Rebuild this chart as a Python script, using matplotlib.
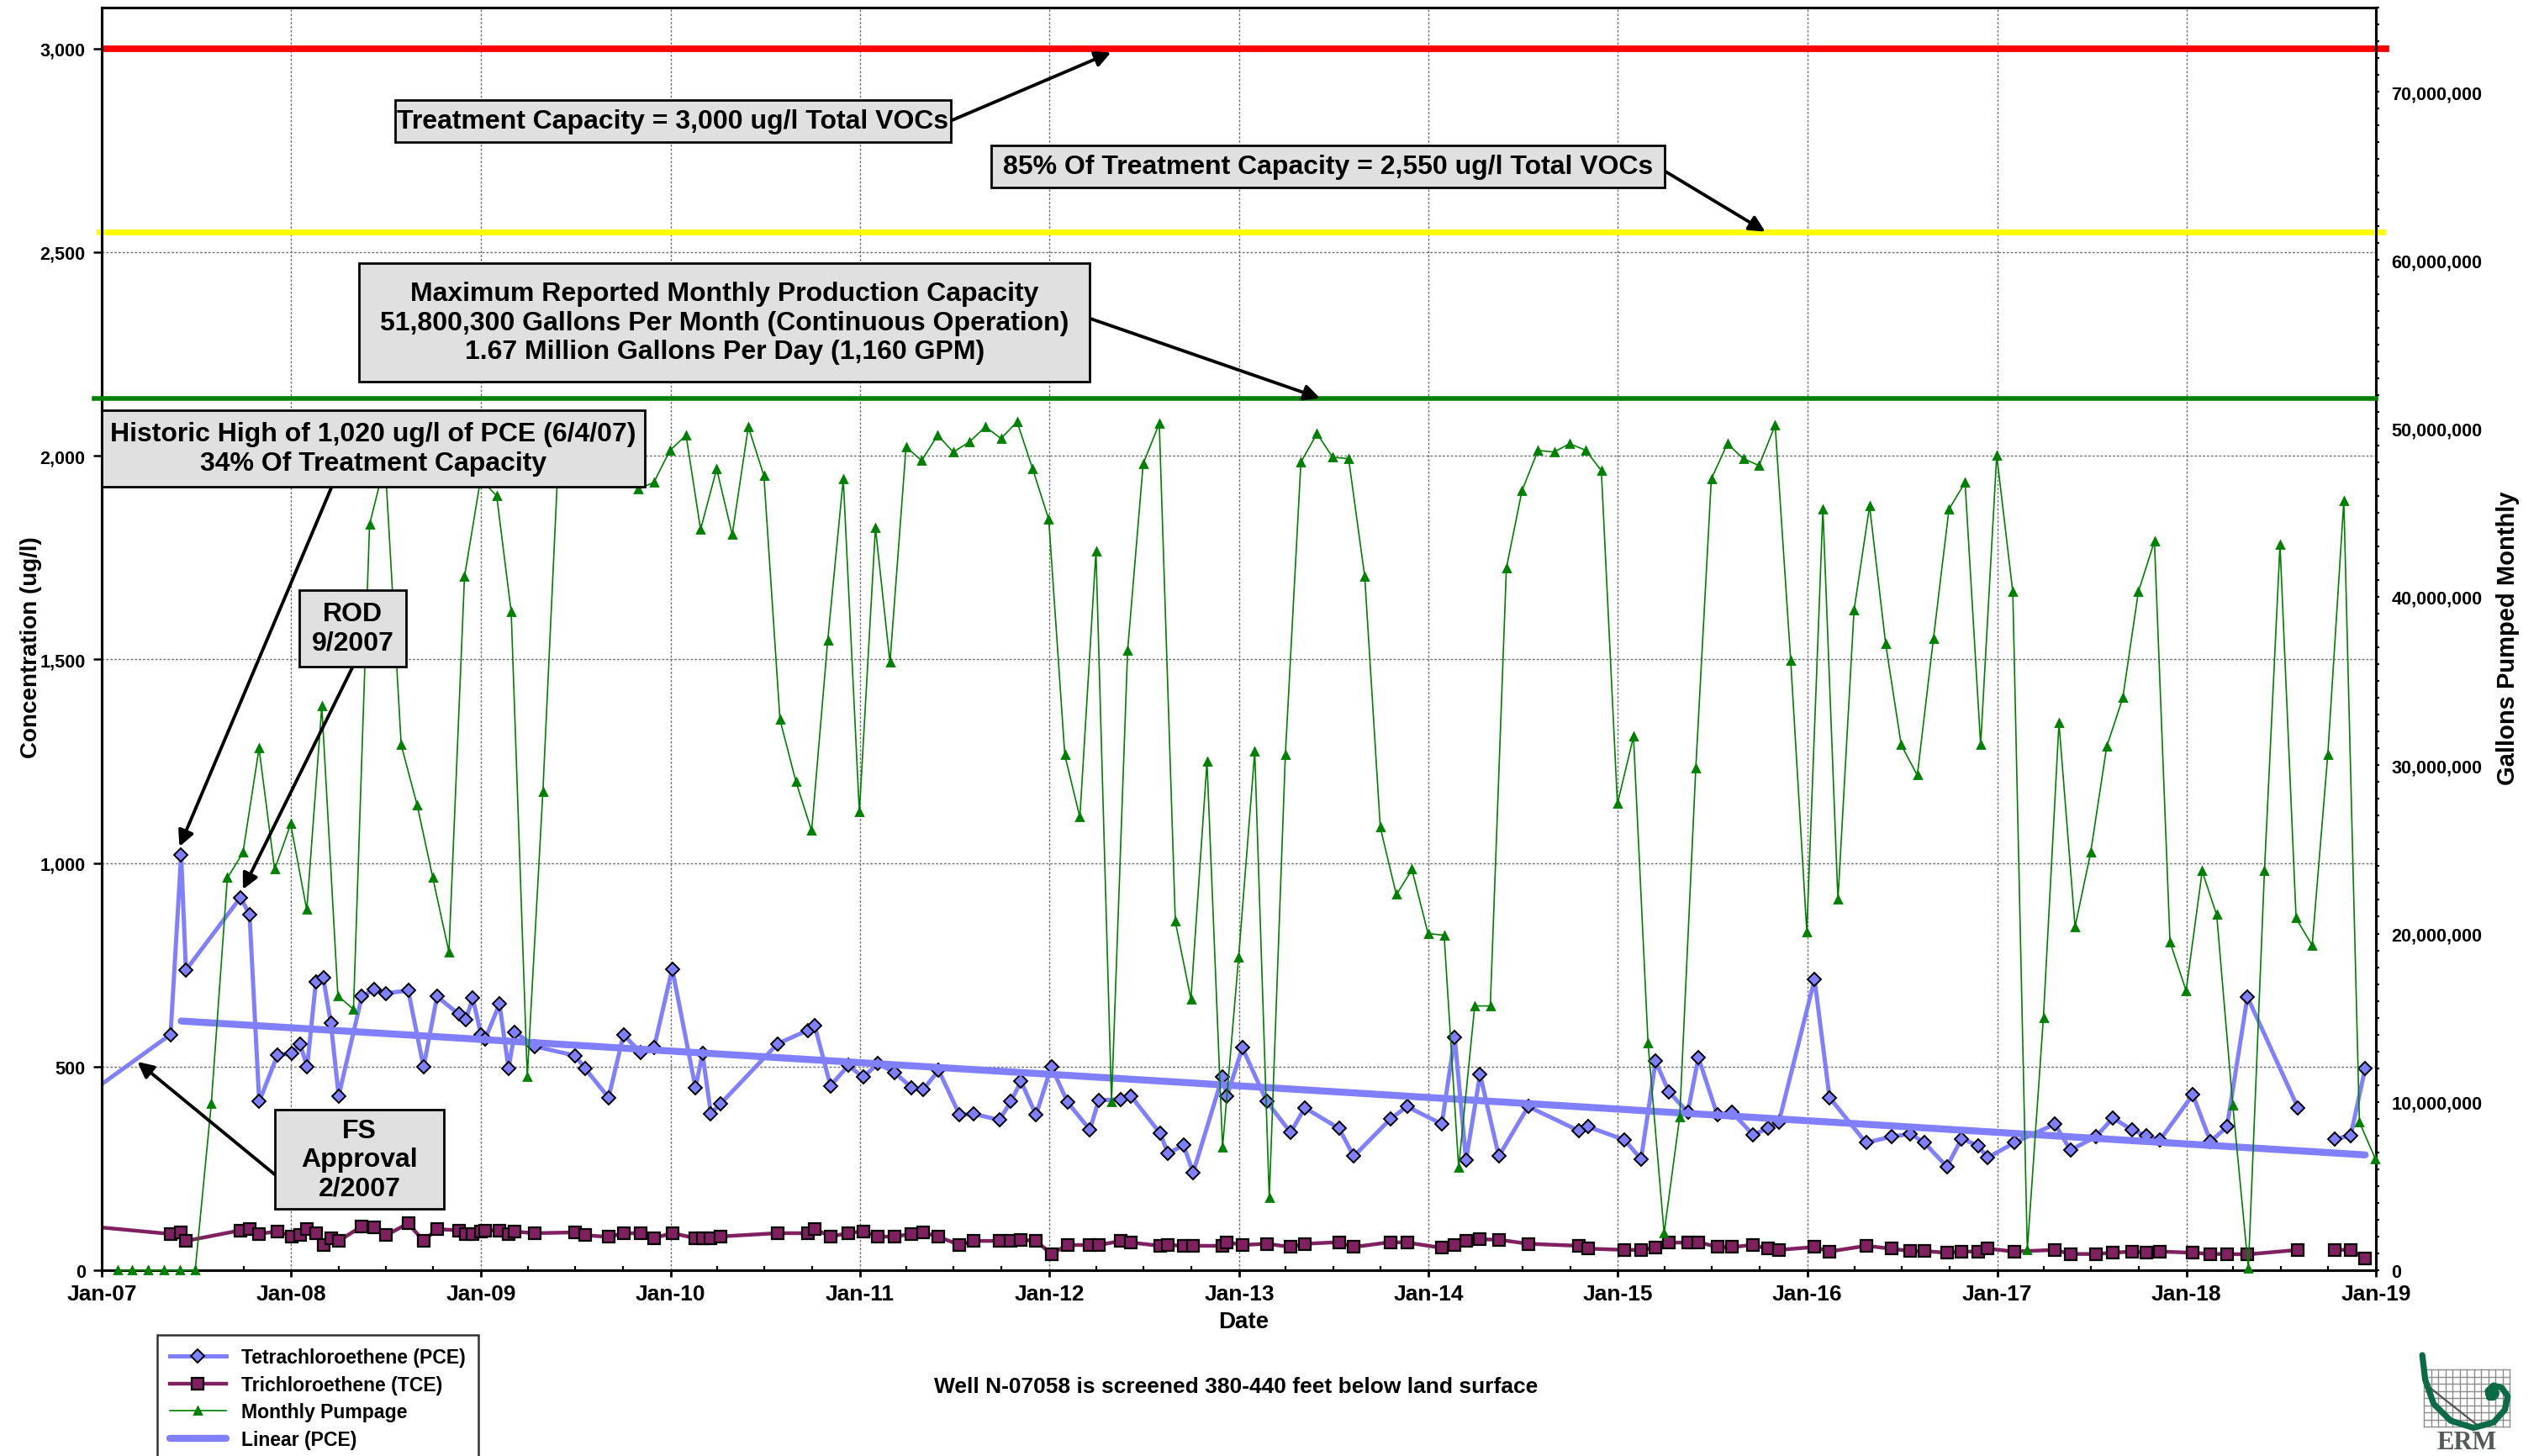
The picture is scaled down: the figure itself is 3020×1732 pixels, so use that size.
import numpy as np
import pandas as pd
import matplotlib
matplotlib.use("Agg")
import matplotlib.pyplot as plt
import matplotlib.dates as mdates
from matplotlib.patches import Rectangle
from matplotlib.ticker import FuncFormatter, MultipleLocator

plt.rcParams['font.family'] = ['Liberation Sans', 'DejaVu Sans']
plt.rcParams['font.weight'] = 'bold'
plt.rcParams['axes.labelweight'] = 'bold'

# sampling events (decimal years); the first one is before the axis start
sample_year = [
    2006.750,
    2007.363, 2007.419, 2007.444, 2007.732, 2007.780, 2007.831, 2007.928,
    2008.005, 2008.046, 2008.084, 2008.130, 2008.169, 2008.209, 2008.250,
    2008.372, 2008.438, 2008.500, 2008.616, 2008.697, 2008.768, 2008.882,
    2008.919, 2008.956,
    2009.000, 2009.022, 2009.097, 2009.145, 2009.178, 2009.281, 2009.496,
    2009.548, 2009.673, 2009.752, 2009.844, 2009.913,
    2010.009, 2010.132, 2010.169, 2010.213, 2010.265, 2010.565, 2010.724,
    2010.761, 2010.845, 2010.939,
    2011.017, 2011.094, 2011.183, 2011.274, 2011.333, 2011.416, 2011.527,
    2011.600, 2011.737, 2011.797, 2011.851, 2011.930,
    2012.011, 2012.097, 2012.214, 2012.260, 2012.378, 2012.430, 2012.584,
    2012.625, 2012.707, 2012.758, 2012.911, 2012.936,
    2013.017, 2013.146, 2013.272, 2013.346, 2013.528, 2013.605, 2013.798,
    2013.886,
    2014.070, 2014.138, 2014.198, 2014.272, 2014.371, 2014.526, 2014.796,
    2014.844,
    2015.035, 2015.122, 2015.199, 2015.269, 2015.369, 2015.425, 2015.525,
    2015.602, 2015.713, 2015.791, 2015.850,
    2016.038, 2016.117, 2016.309, 2016.442, 2016.543, 2016.617, 2016.735,
    2016.812, 2016.901, 2016.948,
    2017.090, 2017.305, 2017.386, 2017.522, 2017.611, 2017.710, 2017.789,
    2017.858,
    2018.033, 2018.126, 2018.213, 2018.321, 2018.588, 2018.690, 2018.784,
    2018.866, 2018.943,
]

# Tetrachloroethene (ug/l); nan = missed sample (line break)
pce = [
    373,
    579, 1020, 737, 915, 874, 414, 529,
    532, 556, 500, 708, 718, 606, 428,
    672, 690, 680, 687, 499, 672, 629,
    615, 668,
    578, 568, 654, 496, 585, 550, 527,
    496, 424, 578, 534, 546,
    740, 448, 532, 385, 409, 556, 589,
    601, 453, 503,
    474, 507, 486, 448, 443, 491, 381,
    384, 369, 414, 464, 381,
    500, 412, 345, 417, 420, 428, 336,
    287, 307, 240, 474, 428,
    546, 414, 338, 399, 348, 280, 371,
    402,
    359, 572, 270, 481, 280, 402, 342,
    352,
    320, 273, 513, 438, 388, 522, 381,
    388, 333, 348, 364,
    714, 424, 313, 328, 335, 313, 254,
    323, 306, 276,
    313, 359, 295, 328, 374, 345, 330,
    319,
    431, 316, 352, 671, 399, np.nan, 323,
    330, 496,
]

# Trichloroethene (ug/l)
tce = [
    116,
    89, 93, 72, 98, 101, 89, 96,
    82, 86, 101, 91, 62, 79, 72,
    108, 105, 86, 115, 72, 101, 98,
    89, 89,
    95, 98, 98, 89, 95, 91, 93,
    86, 82, 91, 91, 79,
    91, 79, 79, 79, 83, 91, 91,
    101, 83, 91,
    96, 82, 83, 89, 93, 82, 62,
    72, 72, 72, 75, 72,
    40, 62, 62, 62, 72, 68, 60,
    62, 60, 60, 60, 69,
    62, 65, 57, 65, 69, 57, 69,
    68,
    55, 62, 72, 76, 75, 65, 60,
    53,
    50, 50, 55, 68, 68, 69, 57,
    57, 62, 53, 50,
    57, 46, 60, 53, 47, 47, 43,
    46, 46, 53,
    46, 50, 40, 40, 43, 46, 43,
    46,
    43, 40, 40, 39, 50, np.nan, 50,
    50, 29,
]

# monthly pumpage, millions of gallons, Jan-2007 .. Dec-2018
pump_first_month = '2007-01'
pumpage_mgal = [
    0.0, 0.0, 0.0, 0.0, 0.0, 0.0, 9.9, 23.3, 24.8, 31.0, 23.8, 26.5,
    21.4, 33.5, 16.3, 15.5, 44.3, 48.0, 31.2, 27.6, 23.3, 18.9, 41.2, 47.0,
    46.0, 39.1, 11.5, 28.4, 49.0, 48.5, 49.0, 48.0, 47.5, 46.4, 46.8, 48.7,
    49.6, 44.0, 47.6, 43.7, 50.1, 47.2, 32.7, 29.0, 26.1, 37.4, 47.0, 27.2,
    44.1, 36.1, 48.9, 48.1, 49.6, 48.6, 49.2, 50.1, 49.4, 50.4, 47.6, 44.6,
    30.6, 26.9, 42.7, 10.0, 36.8, 47.9, 50.3, 20.7, 16.1, 30.2, 7.3, 18.6,
    30.8, 4.3, 30.6, 48.0, 49.7, 48.3, 48.2, 41.2, 26.3, 22.3, 23.8, 20.0,
    19.9, 6.1, 15.7, 15.7, 41.7, 46.3, 48.7, 48.6, 49.1, 48.7, 47.5, 27.7,
    31.7, 13.5, 2.2, 9.1, 29.8, 47.0, 49.1, 48.2, 47.8, 50.2, 36.2, 20.1,
    45.2, 22.0, 39.2, 45.4, 37.2, 31.2, 29.4, 37.5, 45.2, 46.8, 31.2, 48.4,
    40.3, 1.2, 15.0, 32.5, 20.4, 24.8, 31.1, 34.0, 40.3, 43.3, 19.5, 16.6,
    23.7, 21.1, 9.8, 0.1, 23.7, 43.1, 20.9, 19.3, 30.6, 45.7, 8.8, 6.6,
]

treatment_capacity = 3000       # ug/l
treatment_85 = 2550             # ug/l
production_capacity = 51800300  # gallons / month
trend_from = 2007.4             # trend fitted from the 6/4/07 sample on


def yr2num(y):
    yi = int(y)
    start = pd.Timestamp(yi, 1, 1)
    end = pd.Timestamp(yi + 1, 1, 1)
    return mdates.date2num(start + (end - start) * (y - yi))


x_samp = np.array([yr2num(y) for y in sample_year])
pce = np.array(pce, dtype=float)
tce = np.array(tce, dtype=float)

month_start = pd.date_range(pump_first_month + '-01', periods=len(pumpage_mgal) + 1, freq='MS')
x_pump = mdates.date2num(month_start[1:] - pd.Timedelta(days=1))
pump = np.array(pumpage_mgal) * 1e6

# linear trend of PCE
ok = (np.array(sample_year) >= trend_from) & ~np.isnan(pce)
coef = np.polyfit(x_samp[ok], pce[ok], 1)
x_tr = np.array([x_samp[ok][0], x_samp[ok][-1]])
y_tr = np.polyval(coef, x_tr)

fig = plt.figure(figsize=(15.1, 8.665), dpi=200)
ax = fig.add_axes([0.0401, 0.1275, 0.8957, 0.8667])
ax2 = ax.twinx()

PCE_C = '#8080ff'
TCE_C = '#802060'
GRN = '#008000'

l_pce, = ax.plot(x_samp, pce, color=PCE_C, lw=1.8, marker='D', ms=4.2,
                 mfc=PCE_C, mec='black', mew=0.7, zorder=4,
                 label='Tetrachloroethene (PCE)')
l_tce, = ax.plot(x_samp, tce, color=TCE_C, lw=1.6, marker='s', ms=5,
                 mfc=TCE_C, mec='black', mew=0.8, zorder=4,
                 label='Trichloroethene (TCE)')
l_tr, = ax.plot(x_tr, y_tr, color=PCE_C, lw=3.0, solid_capstyle='round',
                zorder=5, label='Linear (PCE)')
l_pump, = ax2.plot(x_pump, pump, color=GRN, lw=0.6, marker='^', ms=3.2,
                   mfc=GRN, mec=GRN, zorder=3, clip_on=False,
                   label='Monthly Pumpage')

# capacity reference lines
ax.plot([0.001, 1.0044], [treatment_capacity] * 2, color='#ff0000', lw=2.8,
        transform=ax.get_yaxis_transform(), clip_on=False, zorder=6)
ax.plot([-0.001, 1.003], [treatment_85] * 2, color='#ffff00', lw=2.5,
        transform=ax.get_yaxis_transform(), clip_on=False, zorder=6)
ax2.plot([-0.0033, 1.0], [production_capacity] * 2, color=GRN, lw=2.0,
         transform=ax2.get_yaxis_transform(), clip_on=False, zorder=6)

# axes
ax.set_xlim(yr2num(2007), yr2num(2019))
ax.set_ylim(0, 3100)
ax2.set_ylim(0, 75e6)

ax.xaxis.set_major_locator(mdates.YearLocator(1, month=1, day=1))
ax.xaxis.set_major_formatter(mdates.DateFormatter('%b-%y'))
ax.xaxis.set_minor_locator(mdates.MonthLocator(bymonth=[4, 7, 10]))
ax.yaxis.set_major_locator(MultipleLocator(500))
ax.yaxis.set_major_formatter(FuncFormatter(lambda v, p: f'{v:,.0f}'))
ax2.yaxis.set_major_locator(MultipleLocator(10e6))
ax2.yaxis.set_minor_locator(MultipleLocator(1e6))
ax2.yaxis.set_major_formatter(FuncFormatter(lambda v, p: f'{v:,.0f}'))

ax.tick_params(axis='x', which='major', direction='out', length=2.7, width=1,
               labelsize=9.5, pad=3)
ax.tick_params(axis='x', which='minor', direction='in', length=1.8, width=0.8)
ax.tick_params(axis='y', which='major', direction='out', length=3.5, width=0.9,
               labelsize=7.8, pad=3.5)
ax2.tick_params(axis='y', which='both', direction='out', length=1.6, width=0.8,
                labelsize=7.8, pad=5)

ax.grid(True, which='major', color='#707070', ls=(0, (2, 1.5)), lw=0.5)
ax.set_axisbelow(True)
for a in (ax, ax2):
    for s in a.spines.values():
        s.set_linewidth(1.1)

ax.set_xlabel('Date', fontsize=10)
ax.xaxis.set_label_coords(0.502, -0.032)
ax.set_ylabel('Concentration (ug/l)', fontsize=10)
ax.yaxis.set_label_coords(-0.0263, 0.494)
ax2.set_ylabel('Gallons Pumped Monthly', fontsize=10.5)
ax2.yaxis.set_label_coords(1.0527, 0.501)


# call-out boxes (axes fraction) and arrows
def note(x0, x1, ytop, ybot, text):
    ax2.add_patch(Rectangle((x0, ybot), x1 - x0, ytop - ybot, transform=ax2.transAxes,
                            facecolor='#e0e0e0', edgecolor='black', lw=1.0,
                            zorder=8, clip_on=False))
    ax2.text((x0 + x1) / 2, (ytop + ybot) / 2, text, transform=ax2.transAxes,
             ha='center', va='center', fontsize=11.5, linespacing=1.2, zorder=9)


def pointer(tail, tip, coords):
    ax2.annotate('', xy=tip, xycoords=coords, xytext=tail, textcoords=ax2.transAxes,
                 arrowprops=dict(arrowstyle='-|>', color='black', lw=1.4,
                                 mutation_scale=14, shrinkA=0, shrinkB=0),
                 zorder=7)


pointer((0.3732, 0.9103), (yr2num(2012.325), 2990), ax.transData)
pointer((0.6873, 0.8705), (yr2num(2015.778), treatment_85), ax.transData)
pointer((0.4345, 0.7538), (yr2num(2013.427), production_capacity), ax2.transData)
pointer((0.1011, 0.6205), (yr2num(2007.41), 1040), ax.transData)
pointer((0.1104, 0.4782), (yr2num(2007.745), 935), ax.transData)
pointer((0.0762, 0.0756), (yr2num(2007.188), 512), ax.transData)

note(0.1289, 0.3732, 0.9269, 0.8936, 'Treatment Capacity = 3,000 ug/l Total VOCs')
note(0.3910, 0.6873, 0.8910, 0.8577, '85% Of Treatment Capacity = 2,550 ug/l Total VOCs')
note(0.1132, 0.4345, 0.7974, 0.7038,
     'Maximum Reported Monthly Production Capacity\n'
     '51,800,300 Gallons Per Month (Continuous Operation)\n'
     '1.67 Million Gallons Per Day (1,160 GPM)')
note(0.0, 0.2386, 0.6808, 0.6205,
     'Historic High of 1,020 ug/l of PCE (6/4/07)\n34% Of Treatment Capacity')
note(0.0869, 0.1339, 0.5385, 0.4782, 'ROD\n9/2007')
note(0.0762, 0.1503, 0.1269, 0.0487, 'FS\nApproval\n2/2007')

# legend and footnote
leg = fig.legend([l_pce, l_tce, l_pump, l_tr],
                 [h.get_label() for h in (l_pce, l_tce, l_pump, l_tr)],
                 loc='upper left', bbox_to_anchor=(0.0619, 0.0831),
                 fontsize=8.3, frameon=True, fancybox=False, edgecolor='black',
                 borderaxespad=0, handlelength=2.9, labelspacing=0.42,
                 borderpad=0.65, numpoints=1)
leg.get_frame().set_linewidth(0.9)

fig.text(0.4867, 0.0479, 'Well N-07058 is screened 380-440 feet below land surface',
         ha='center', va='center', fontsize=9.5)

# ERM logo (drawn in pixel units of the figure)
lg = fig.add_axes([2870 / 3020, 0, 150 / 3020, 130 / 1733])
lg.set_xlim(2870, 3020)
lg.set_ylim(1733, 1603)
lg.axis('off')
for gx in np.linspace(2883, 2985, 13):
    lg.plot([gx, gx], [1630, 1698], color='#8c8c8c', lw=0.5)
for gy in np.linspace(1630, 1698, 9):
    lg.plot([2883, 2985], [gy, gy], color='#8c8c8c', lw=0.5)
lg.plot([2888, 2945], [1650, 1695], color='#555555', lw=0.8)
swirl_x = [2881.2, 2884.6, 2894.7, 2915.0, 2942.1, 2965.9, 2979.4, 2982.8,
           2976.0, 2965.9, 2959.0, 2960.8, 2965.9]
swirl_y = [1613.0, 1642.0, 1671.0, 1691.0, 1699.5, 1693.0, 1678.0, 1662.0,
           1652.0, 1649.0, 1655.5, 1663.5, 1663.5]
lg.plot(swirl_x, swirl_y, color='#0b6b47', lw=2.6, solid_capstyle='round',
        solid_joinstyle='round')
lg.plot([2963.5], [1658], 'o', color='#0b6b47', ms=5)
lg.text(2934, 1731, 'ERM', ha='center', va='bottom', fontsize=11, color='#545a5a',
        family=['Liberation Serif', 'DejaVu Serif'])

fig.savefig('out.png', dpi=200)
